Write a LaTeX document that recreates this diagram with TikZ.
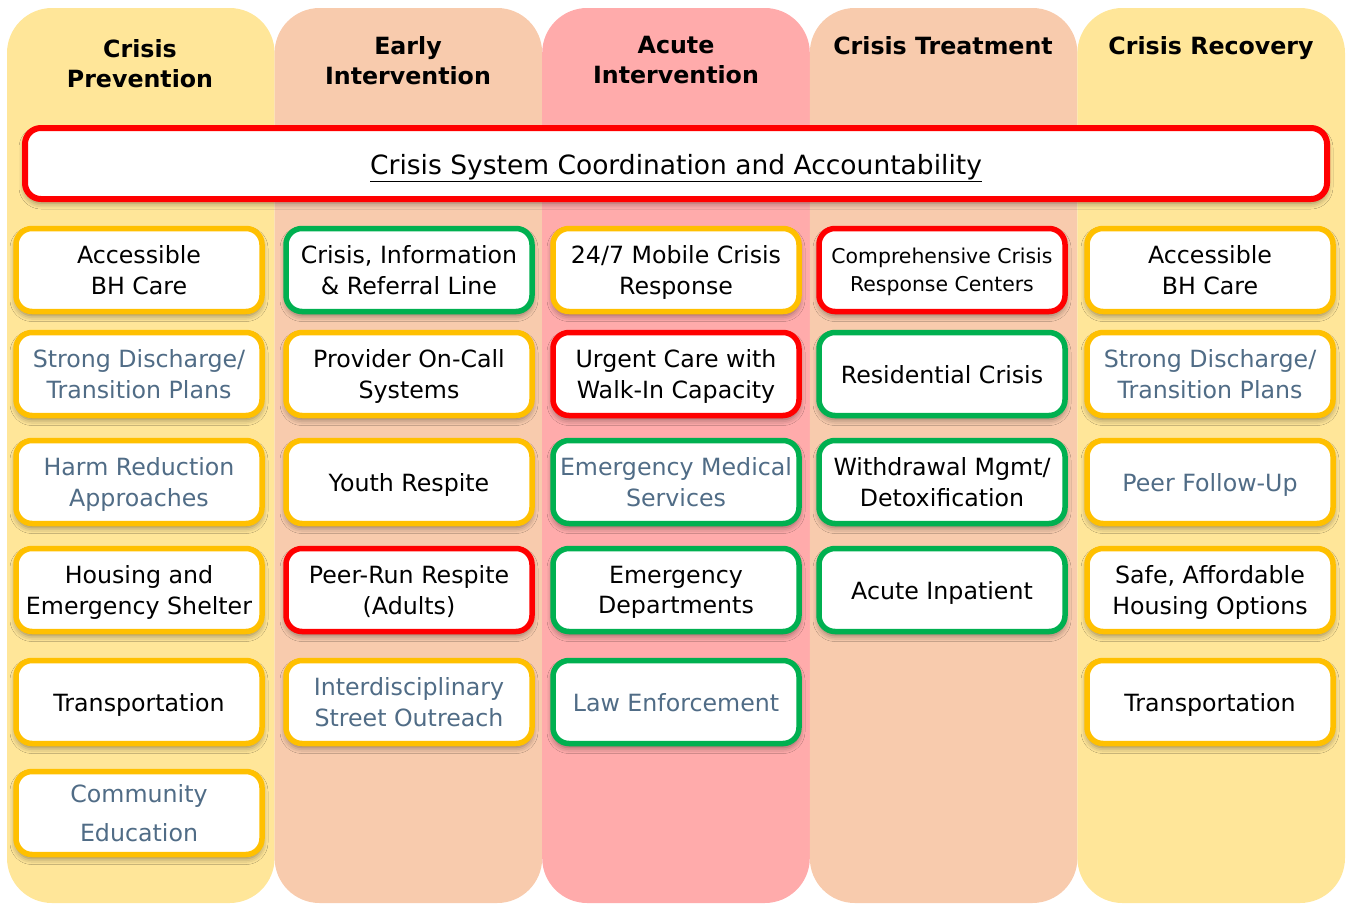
\documentclass[tikz,border=0pt]{standalone}
\usepackage{fontspec}
\setmainfont{DejaVu Sans}
\usetikzlibrary{shadows.blur}
\definecolor{yellowbg}{RGB}{255,230,153}
\definecolor{peachbg}{RGB}{248,203,173}
\definecolor{pinkbg}{RGB}{255,171,171}
\definecolor{goldline}{RGB}{255,192,0}
\definecolor{greenline}{RGB}{0,176,80}
\definecolor{redline}{RGB}{255,0,0}
\definecolor{slate}{RGB}{80,108,134}
\tikzset{
  colhead/.style={font=\fontsize{23.7}{30.5}\selectfont\bfseries, align=center, anchor=north, inner sep=0pt},
  card/.style={draw, fill=white, line width=5.5pt, rounded corners=16pt, minimum width=246pt, minimum height=83pt,
    align=center, inner sep=0pt, text depth=0pt, font=\fontsize{23.7}{30.5}\selectfont,
    blur shadow={shadow xshift=0pt, shadow yshift=-4pt, shadow blur radius=6pt, shadow opacity=45}},
  ycard/.style={card, draw=goldline},
  gcard/.style={card, draw=greenline},
  rcard/.style={card, draw=redline},
  soft/.style={text=slate}
}
\begin{document}
\begin{tikzpicture}[x=1pt,y=-1pt]
    \useasboundingbox (0,0) rectangle (1346,905);
    % phase columns
    \foreach \i/\bg in {0/yellowbg,1/peachbg,2/pinkbg,3/peachbg,4/yellowbg}{
        \fill[\bg, rounded corners=45pt] (7+267.6*\i,8) rectangle (7+267.6*\i+267.6,903);
    }
    % column headings
    \node[colhead] (hprev) at (140,39) {Crisis\\Prevention};
    \node[colhead] (hearly) at (408,36) {Early\\Intervention};
    \node[colhead] (hacute) at (676,36) {Acute\\Intervention};
    \node[colhead] (htreat) at (943,36) {Crisis Treatment};
    \node[colhead] (hrecov) at (1211,36) {Crisis Recovery};
    % coordination bar
    \node[rcard, line width=6pt, minimum width=1302pt, minimum height=71pt, text height=21pt,
        font=\fontsize{26.5}{30}\selectfont] (coord) at (676,163.5)
        {\underline{Crisis System Coordination and Accountability}};
    % Crisis Prevention
    \node[ycard] (prev1) at (139,270) {Accessible\\BH Care};
    \node[ycard, soft] (prev2) at (139,374) {Strong Discharge/\\Transition Plans};
    \node[ycard, soft] (prev3) at (139,482) {Harm Reduction\\Approaches};
    \node[ycard] (prev4) at (139,590) {Housing and\\Emergency Shelter};
    \node[ycard] (prev5) at (139,702) {Transportation};
    \node[ycard, soft] (prev6) at (139,813) {Community\\[8pt]Education};
    % Early Intervention
    \node[gcard] (early1) at (409,270) {Crisis, Information\\\& Referral Line};
    \node[ycard] (early2) at (409,374) {Provider On-Call\\Systems};
    \node[ycard] (early3) at (409,482) {Youth Respite};
    \node[rcard] (early4) at (409,590) {Peer-Run Respite\\(Adults)};
    \node[ycard, soft] (early5) at (409,702) {Interdisciplinary\\Street Outreach};
    % Acute Intervention
    \node[ycard] (acute1) at (676,270) {24/7 Mobile Crisis\\Response};
    \node[rcard] (acute2) at (676,374) {Urgent Care with\\Walk-In Capacity};
    \node[gcard, soft] (acute3) at (676,482) {Emergency Medical\\Services};
    \node[gcard] (acute4) at (676,590) {Emergency\\Departments};
    \node[gcard, soft] (acute5) at (676,702) {Law Enforcement};
    % Crisis Treatment
    \node[rcard, font=\fontsize{20.4}{28}\selectfont] (treat1) at (942,270) {Comprehensive Crisis\\Response Centers};
    \node[gcard] (treat2) at (942,374) {Residential Crisis};
    \node[gcard] (treat3) at (942,482) {Withdrawal Mgmt/\\Detoxification};
    \node[gcard] (treat4) at (942,590) {Acute Inpatient};
    % Crisis Recovery
    \node[ycard] (recov1) at (1210,270) {Accessible\\BH Care};
    \node[ycard, soft] (recov2) at (1210,374) {Strong Discharge/\\Transition Plans};
    \node[ycard, soft] (recov3) at (1210,482) {Peer Follow-Up};
    \node[ycard] (recov4) at (1210,590) {Safe, Affordable\\Housing Options};
    \node[ycard] (recov5) at (1210,702) {Transportation};
\end{tikzpicture}
\end{document}
